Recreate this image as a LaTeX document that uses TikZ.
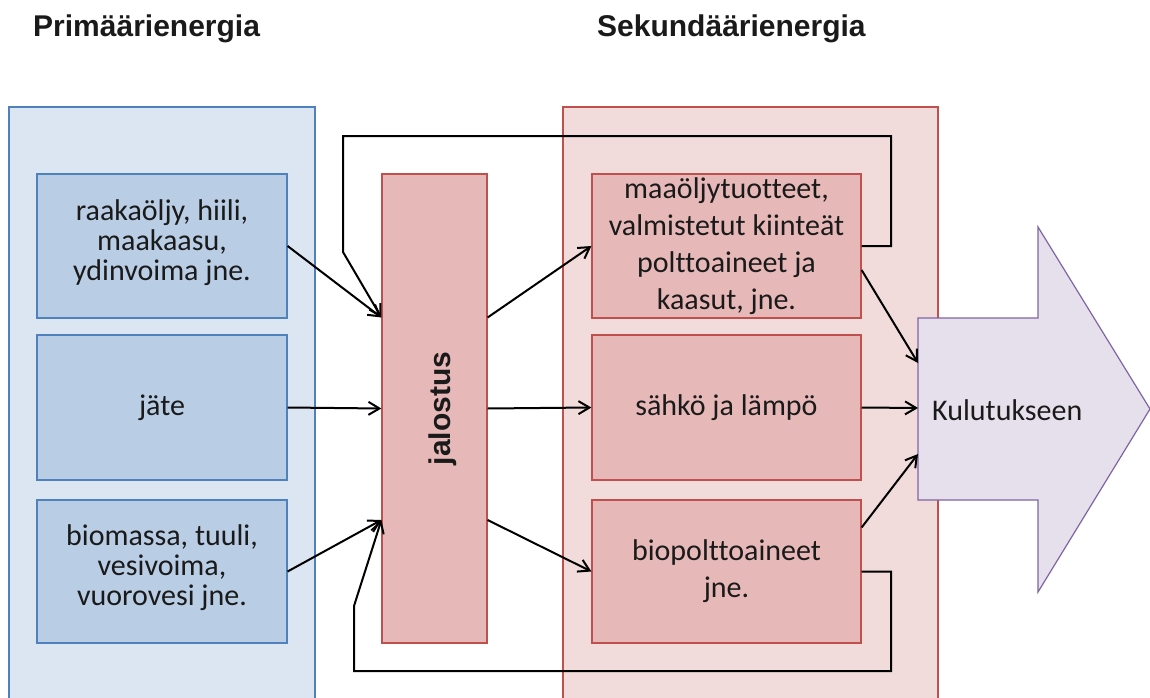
\documentclass[tikz,border=0pt]{standalone}
\usepackage{fontspec}
\setmainfont{Carlito}[Ligatures={NoCommon}]
\newfontfamily\hdfont{Liberation Sans}
\usetikzlibrary{arrows.meta}
\definecolor{lcfill}{HTML}{DCE6F2}
\definecolor{lcdraw}{HTML}{4F81BD}
\definecolor{lbfill}{HTML}{B9CDE5}
\definecolor{rcfill}{HTML}{F2DCDB}
\definecolor{rcdraw}{HTML}{C0504D}
\definecolor{rbfill}{HTML}{E6B9B8}
\definecolor{kfill}{HTML}{E5E0EC}
\definecolor{kdraw}{HTML}{8064A2}
\definecolor{txt}{HTML}{1A1A1A}
\tikzset{
  container/.style={draw, line width=1.2pt, inner sep=0pt},
  lbox/.style={draw=lcdraw, fill=lbfill, line width=1.2pt, minimum width=250pt, inner sep=0pt},
  ltext/.style={align=center, text=txt, inner sep=0pt, font=\fontsize{30}{30}\selectfont},
  rbox/.style={draw=rcdraw, fill=rbfill, line width=1.2pt, minimum width=269pt, align=center, text=txt, inner sep=0pt, font=\fontsize{30}{37}\selectfont},
  heading/.style={anchor=base west, inner sep=0pt, font=\hdfont\bfseries\fontsize{30}{36}\selectfont, text=txt},
  conn/.style={line width=2pt, -{Straight Barb[length=11pt,width=13pt]}}
}
\begin{document}
\begin{tikzpicture}[x=1pt,y=-1pt]
\useasboundingbox (0,0) rectangle (1150,698);
\clip (0,0) rectangle (1150,698);
\fill[white] (0,0) rectangle (1150,698);
% headings
\node[heading] (prim) at (33,37) {Primäärienergia};
\node[heading] (sek) at (597,37) {Sekundäärienergia};
% containers
\node[container, draw=lcdraw, fill=lcfill, minimum width=306pt, minimum height=613pt] (lc) at (162,413.5) {};
\node[container, draw=rcdraw, fill=rcfill, minimum width=375pt, minimum height=613pt] (rc) at (750.5,413.5) {};
% left boxes
\node[lbox, minimum height=144pt] (l1) at (162,246) {};
\node[ltext] (l1t) at ([yshift=3pt]l1.center) {raakaöljy, hiili,\\maakaasu,\\ydinvoima jne.};
\node[lbox, minimum height=145pt] (l2) at (162,407.5) {};
\node[ltext] (l2t) at (l2.center) {jäte};
\node[lbox, minimum height=143pt] (l3) at (162,571.5) {};
\node[ltext] (l3t) at ([yshift=4pt]l3.center) {biomassa, tuuli,\\vesivoima,\\vuorovesi jne.};
% jalostus
\node[draw=rcdraw, fill=rbfill, line width=1.2pt, minimum width=105pt, minimum height=469pt, inner sep=0pt] (jal) at (434.5,408.5) {};
\node[rotate=90, font=\hdfont\bfseries\fontsize{30}{36}\selectfont, text=txt, inner sep=0pt] (jaltxt) at ([xshift=8pt]jal.center) {jalostus};
% right boxes
\node[rbox, minimum height=144pt] (r1) at (726.5,246) {maaöljytuotteet,\\valmistetut kiinteät\\polttoaineet ja\\kaasut, jne.};
\node[rbox, minimum height=145pt] (r2) at (726.5,407.5) {sähkö ja lämpö};
\node[rbox, minimum height=143pt] (r3) at (726.5,571.5) {biopolttoaineet\\jne.};
% big arrow
\draw[draw=kdraw, fill=kfill, line width=1.2pt] (918,318) -- (1038,318) -- (1038,227) -- (1150,409) -- (1038,592) -- (1038,500) -- (918,500) -- cycle;
\node[anchor=west, inner sep=0pt, text=txt, font=\fontsize{30}{36}\selectfont] (kul) at (932,410) {Kulutukseen};
\coordinate (k1) at (918,363);
\coordinate (k2) at (918,408);
\coordinate (k3) at (918,454);
% connectors primary -> jalostus
\draw[conn] (l1.east) -- ([yshift=91pt]jal.west);
\draw[conn] (l2.east) -- (jal.west);
\draw[conn] (l3.east) -- ([yshift=-111.5pt]jal.west);
% jalostus -> secondary
\draw[conn] ([yshift=91pt]jal.east) -- (r1.west);
\draw[conn] (jal.east) -- (r2.west);
\draw[conn] ([yshift=-111.5pt]jal.east) -- (r3.west);
% secondary -> Kulutukseen
\draw[conn] ([yshift=-24pt]r1.east) -- (k1);
\draw[conn] (r2.east) -- (k2);
\draw[conn] ([yshift=44pt]r3.east) -- (k3);
% feedback loops
\draw[conn] (r1.east) -- (891,246) -- (891,136) -- (343,136) -- (343,252) -- ([yshift=91pt]jal.west);
\draw[conn] (r3.east) -- (891,571.5) -- (891,671) -- (354,671) -- (354,606) -- ([yshift=-111.5pt]jal.west);
\end{tikzpicture}
\end{document}
